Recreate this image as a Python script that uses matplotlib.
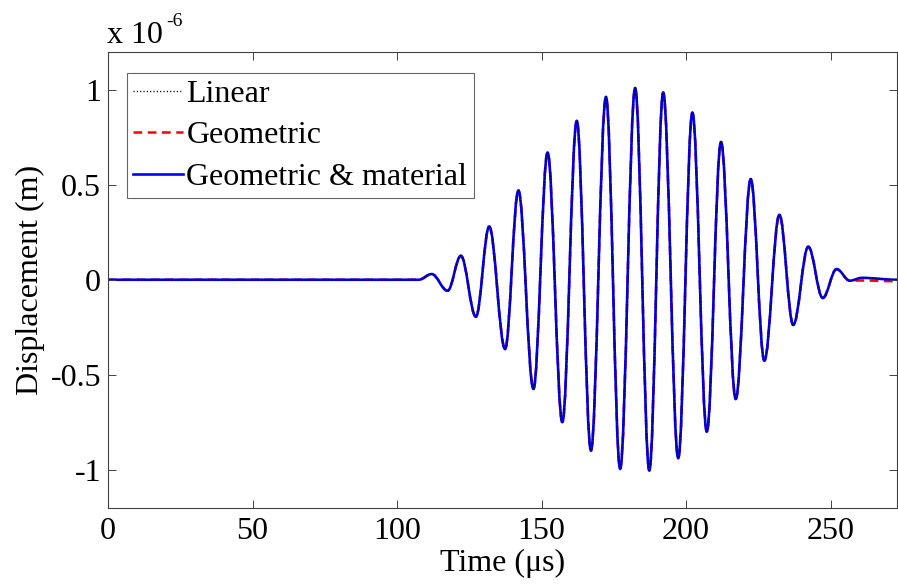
import numpy as np
import matplotlib
matplotlib.use('Agg')
import matplotlib.pyplot as plt
from matplotlib.path import Path
from matplotlib.patches import PathPatch
from matplotlib.lines import Line2D

# extrema of the received tone burst (time in us, displacement in 1e-6 m)
t_ext = [0.0, 107.5, 112.0, 117.5, 122.1, 127.3, 131.9, 137.4, 142.0, 147.2, 152.1, 157.2,
         162.2, 167.1, 172.3, 177.2, 182.4, 187.3, 192.1, 197.3, 202.2, 207.2, 212.1,
         217.2, 222.4, 227.1, 232.3, 237.1, 242.3, 247.3, 252.1, 256.7]
u_ext = [0.0, 0.0, 0.03, -0.058, 0.126, -0.195, 0.28, -0.365, 0.47, -0.575, 0.67, -0.75,
         0.837, -0.90, 0.963, -0.996, 1.01, -1.005, 0.986, -0.94, 0.88, -0.80, 0.726,
         -0.628, 0.53, -0.426, 0.342, -0.238, 0.174, -0.096, 0.056, -0.005]

# tails after the burst differ very slightly between the models
t_tail = [260.8, 273.0]
u_tail_linear = [0.01, 0.0]
u_tail_geom = [-0.004, -0.008]
u_tail_mat = [0.01, 0.0]

labels = ['Linear', 'Geometric', 'Geometric & material']


def burst_path(t, u):
    # smooth path through the extrema: cubic segments with flat tangents at each extremum
    k = 0.364
    verts = [(t[0], u[0])]
    codes = [Path.MOVETO]
    for i in range(len(t) - 1):
        dt = t[i+1] - t[i]
        verts += [(t[i] + k*dt, u[i]), (t[i+1] - k*dt, u[i+1]), (t[i+1], u[i+1])]
        codes += [Path.CURVE4]*3
    return Path(verts, codes)


plt.rcParams['font.family'] = ['Liberation Serif', 'DejaVu Serif']
fs = 23
W, H = 898, 585

fig = plt.figure(figsize=(W/100, H/100), dpi=100)
ax = fig.add_axes([108/W, 1-507.5/H, (897-108)/W, (507.5-52)/H])

series = [
    (u_tail_geom, dict(color='#ff0000', ls=(0, (3.5, 2.2)), lw=1.8)),
    (u_tail_mat, dict(color='#0000ff', ls='-', lw=1.9)),
    (u_tail_linear, dict(color='k', ls=(0, (0.8, 1.6)), lw=1.0)),
]
for tail, st in series:
    p = burst_path(t_ext + t_tail, u_ext + tail)
    ax.add_patch(PathPatch(p, fill=False, edgecolor=st['color'], linestyle=st['ls'],
                           linewidth=st['lw'], transform=ax.transData))

ax.set_xlim(0, 273)
ax.set_ylim(-1.2, 1.2)
ax.set_xticks([0, 50, 100, 150, 200, 250])
ax.set_yticks([-1, -0.5, 0, 0.5, 1])
ax.set_yticklabels(['-1', '-0.5', '0', '0.5', '1'])
ax.tick_params(direction='in', length=5.5, width=0.7, top=True, right=True,
               labelsize=fs, pad=5, colors='#404040', labelcolor='k')
ax.tick_params(axis='x', pad=7)
for s in ax.spines.values():
    s.set_color('#404040')
    s.set_linewidth(0.8)

ax.set_xlabel('Time (μs)', fontsize=fs)
ax.xaxis.set_label_coords(0.5, -0.09)
ax.set_ylabel('Displacement (m)', fontsize=fs)
ax.yaxis.set_label_coords(-0.08, 0.5)

fig.text(107/W, 1-43/H, 'x 10', fontsize=23, va='baseline', ha='left')
fig.text(166/W, 1-26/H, '-6', fontsize=14, va='baseline', ha='left')

handles = [Line2D([], [], color='k', ls=(0, (0.8, 1.6)), lw=1.0),
           Line2D([], [], color='#ff0000', ls=(0, (3.5, 2.2)), lw=1.8),
           Line2D([], [], color='#0000ff', ls='-', lw=1.9)]
leg = ax.legend(handles, labels, loc='upper left',
                bbox_to_anchor=((127-108)/789, 1-(73-52)/455.5),
                borderaxespad=0, fontsize=fs, frameon=True, fancybox=False,
                handlelength=1.56, handletextpad=0.1, borderpad=0.2, labelspacing=0.385)
leg.get_frame().set_edgecolor('#404040')
leg.get_frame().set_linewidth(0.8)

fig.savefig('out.png', dpi=100)
